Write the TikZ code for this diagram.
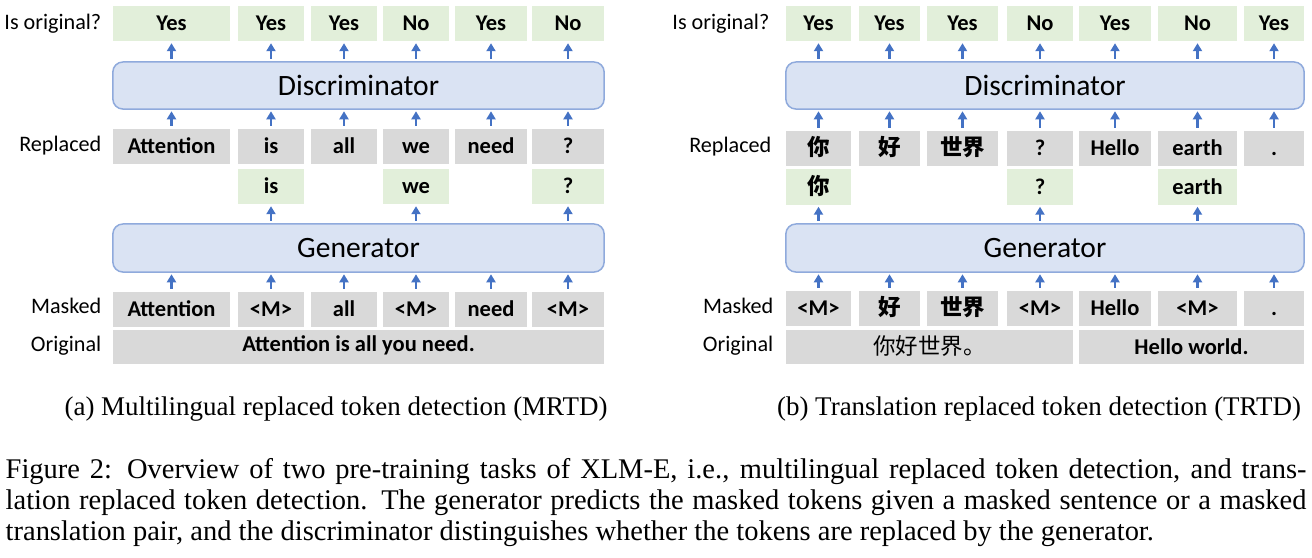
\documentclass[tikz,border=0pt]{standalone}
\usepackage{fontspec}
\setmainfont{Liberation Serif}
\newfontfamily\calibri{Carlito}
\newfontfamily\cjk{Noto Sans CJK SC}
\usetikzlibrary{arrows.meta,positioning,calc}
\definecolor{tokgreen}{HTML}{E2EFDA}
\definecolor{tokgray}{HTML}{D9D9D9}
\definecolor{blockfill}{HTML}{DAE3F3}
\definecolor{blockline}{HTML}{8FAADC}
\definecolor{arrowblue}{HTML}{4472C4}
\tikzset{
  tok/.style={inner sep=0pt, minimum height=0.35cm, text height=4.2pt, text depth=0pt,
    font=\calibri\bfseries\fontsize{6.4}{7}\selectfont},
  yesbox/.style={tok, fill=tokgreen},
  repbox/.style={tok, fill=tokgray},
  block/.style={draw=blockline, line width=0.015cm, fill=blockfill, rounded corners=0.1cm,
    inner sep=0pt, minimum height=0.47cm, font=\calibri\fontsize{8.4}{10}\selectfont},
  lbl/.style={anchor=base east, inner sep=0pt, font=\calibri\fontsize{6.3}{7}\selectfont},
  uparrow/.style={draw=arrowblue, line width=0.025cm, -{Triangle[width=0.09cm,length=0.08cm]},
    shorten <=0.025cm, shorten >=0.015cm},
  captext/.style={inner sep=0pt, font=\fontsize{7.67}{8.8}\selectfont},
}
\begin{document}
\begin{tikzpicture}[x=0.01cm, y=-0.01cm]
\useasboundingbox (0,0) rectangle (1312,557);

% (a) MRTD
\node[lbl] (lq) at (102,29) {Is original?};
\node[lbl] (lrl) at (102,151) {Replaced};
\node[lbl] (lml) at (102,313) {Masked};
\node[lbl] (lol) at (102,351) {Original};
\foreach \a/\b/\t [count=\i] in {113/230/Yes,238/304/Yes,311/377/Yes,383/449/No,455/527/Yes,532/604/No}
  \node[yesbox, minimum width={(\b-\a)*0.01cm}] (lo\i) at ({(\a+\b)/2},23.5) {\t};
\node[block, minimum width=4.91cm] (ld) at (358.5,85.5) {Discriminator};
\foreach \a/\b/\t [count=\i] in {113/230/Attention,238/304/is,311/377/all,383/449/we,455/527/need,532/604/?}
  \node[repbox, minimum width={(\b-\a)*0.01cm}] (lr\i) at ({(\a+\b)/2},146.5) {\t};
\foreach \a/\b/\t/\i in {238/304/is/2,383/449/we/4,532/604/?/6}
  \node[yesbox, minimum width={(\b-\a)*0.01cm}] (lp\i) at ({(\a+\b)/2},186.5) {\t};
\node[block, minimum width=4.91cm, minimum height=0.48cm] (lg) at (358.5,248) {Generator};
\foreach \a/\b/\t [count=\i] in {113/230/Attention,238/304/<M>,311/377/all,383/449/<M>,455/527/need,532/604/<M>}
  \node[repbox, minimum width={(\b-\a)*0.01cm}] (lm\i) at ({(\a+\b)/2},309.5) {\t};
\node[repbox, minimum width=4.91cm, minimum height=0.34cm, text depth=1.4pt] (lx) at (358.5,347) {Attention is all you need.};
\foreach \i in {1,...,6} {
  \draw[uparrow] (ld.north -| lo\i.south) -- (lo\i.south);
  \draw[uparrow] (lr\i.north) -- (lr\i.north |- ld.south);
  \draw[uparrow] (lm\i.north) -- (lm\i.north |- lg.south);
}
\foreach \i in {2,4,6}
  \draw[uparrow] (lg.north -| lp\i.south) -- (lp\i.south);

% (b) TRTD
\node[lbl] (rq) at (770,29) {Is original?};
\node[lbl] (rrl) at (772,152) {Replaced};
\node[lbl] (rml) at (774,313) {Masked};
\node[lbl] (rol) at (774,351) {Original};
\foreach \a/\b/\t [count=\i] in {786/851/Yes,859/920/Yes,927/998/Yes,1007/1073/No,1079/1151/Yes,1158/1237/No,1244/1304/Yes}
  \node[yesbox, minimum width={(\b-\a)*0.01cm}] (ro\i) at ({(\a+\b)/2},23.5) {\t};
\node[block, minimum width=5.18cm] (rd) at (1045,85.5) {Discriminator};
\foreach \a/\b/\t [count=\i] in {786/851/{\cjk 你},859/920/{\cjk 好},927/998/{\cjk 世界},1007/1073/?,1079/1151/Hello,1158/1237/earth,1244/1304/.}
  \node[repbox, minimum width={(\b-\a)*0.01cm}] (rr\i) at ({(\a+\b)/2},148.5) {\t};
\foreach \a/\b/\t/\i in {786/851/{\cjk 你}/1,1007/1073/?/4,1158/1237/earth/6}
  \node[yesbox, minimum width={(\b-\a)*0.01cm}] (rp\i) at ({(\a+\b)/2},187) {\t};
\node[block, minimum width=5.18cm, minimum height=0.48cm] (rg) at (1045,248) {Generator};
\foreach \a/\b/\t [count=\i] in {786/851/<M>,859/920/{\cjk 好},927/998/{\cjk 世界},1007/1073/<M>,1079/1151/Hello,1158/1237/<M>,1244/1304/.}
  \node[repbox, minimum width={(\b-\a)*0.01cm}] (rm\i) at ({(\a+\b)/2},308.5) {\t};
\node[repbox, minimum width=2.87cm, minimum height=0.34cm] (rx1) at (929.5,347) {\cjk\mdseries 你好世界。};
\node[repbox, minimum width=2.25cm, minimum height=0.34cm] (rx2) at (1191.5,347) {Hello world.};
\foreach \i in {1,...,7} {
  \draw[uparrow] (rd.north -| ro\i.south) -- (ro\i.south);
  \draw[uparrow] (rr\i.north) -- (rr\i.north |- rd.south);
  \draw[uparrow] (rm\i.north) -- (rm\i.north |- rg.south);
}
\foreach \i in {1,4,6}
  \draw[uparrow] (rg.north -| rp\i.south) -- (rp\i.south);

% captions
\node[captext] (capa) at (336,409) {(a) Multilingual replaced token detection (MRTD)};
\node[captext] (capb) at (1039,409) {(b) Translation replaced token detection (TRTD)};
\node[captext, anchor=north west, text width=13cm, align=justify, font=\fontsize{8.1}{8.8}\selectfont] (cap) at (5,458)
  {Figure 2: Overview of two pre-training tasks of XLM-E, i.e., multilingual replaced token detection, and trans-\linebreak
   lation replaced token detection. The generator predicts the masked tokens given a masked sentence or a masked\linebreak
   translation pair, and the discriminator distinguishes whether the tokens are replaced by the generator.};
\end{tikzpicture}
\end{document}
